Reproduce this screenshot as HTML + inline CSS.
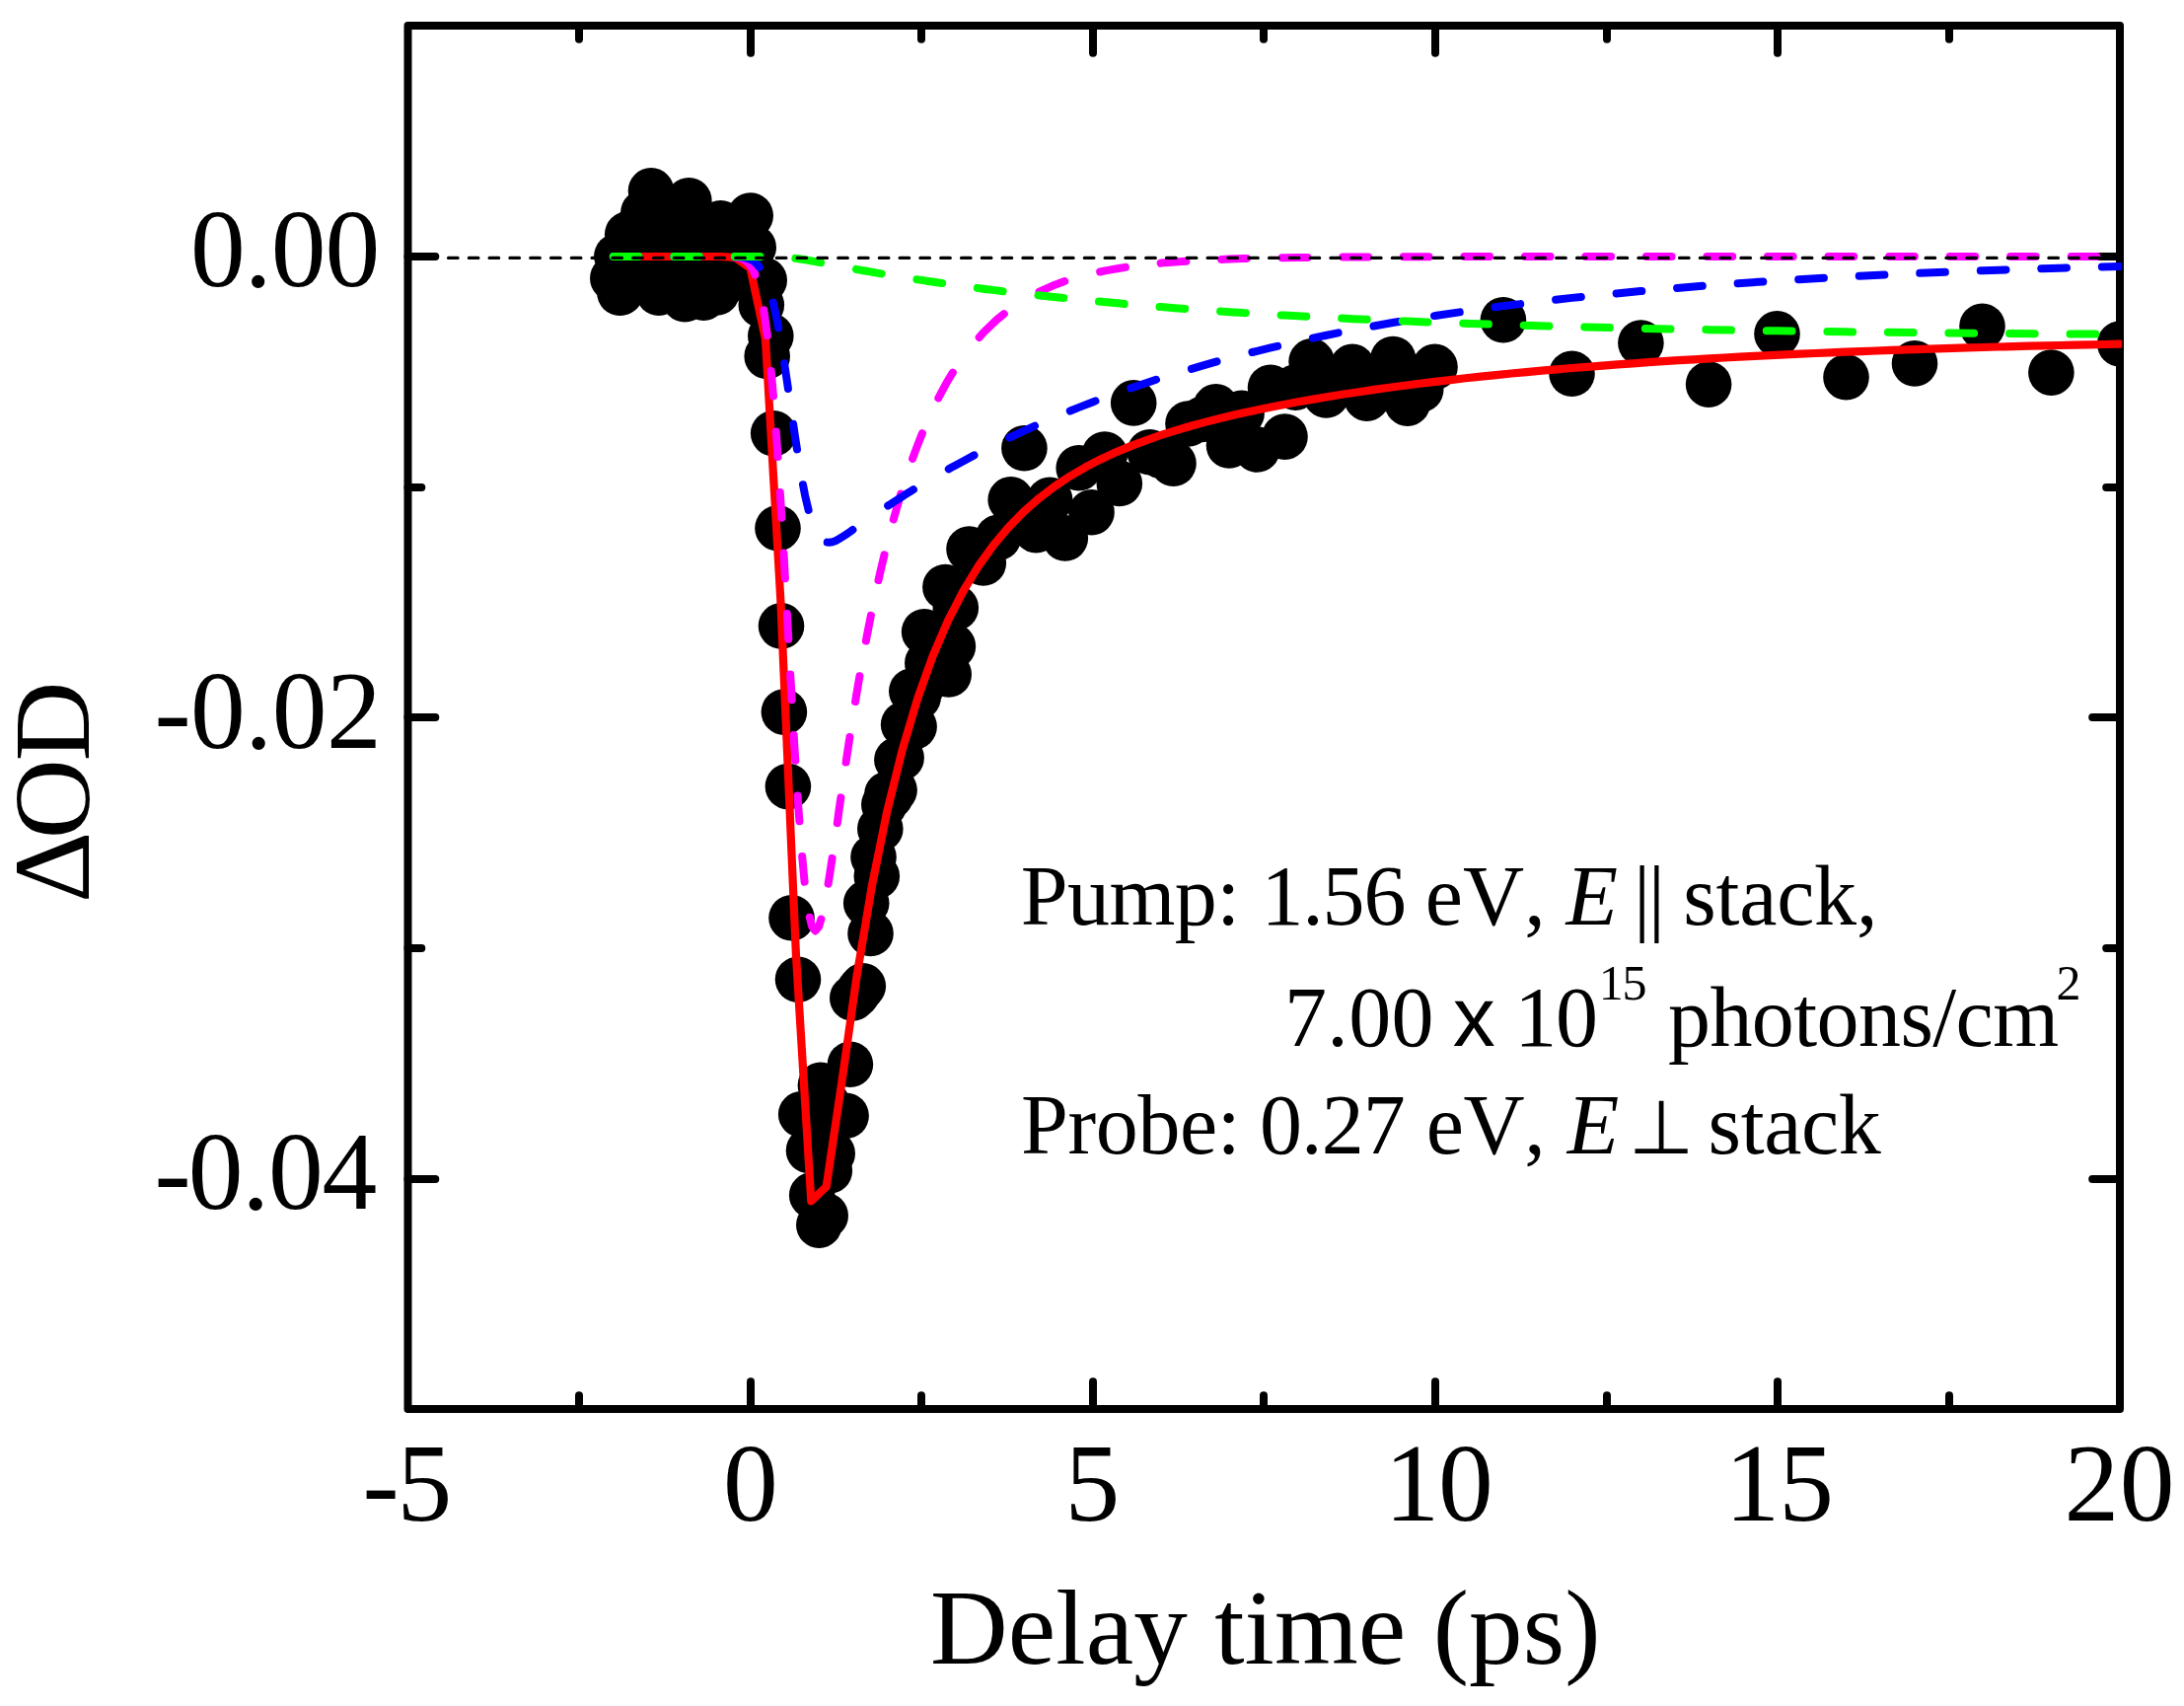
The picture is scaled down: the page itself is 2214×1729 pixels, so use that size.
<!DOCTYPE html><html><head><meta charset="utf-8"><title>Delay time plot</title><style>html,body{margin:0;padding:0;background:#fff}svg{display:block}text{font-family:"Liberation Serif",serif;fill:#000;font-kerning:none;font-variant-ligatures:none}</style></head><body>
<svg width="2214" height="1729" viewBox="0 0 2214 1729">
<rect width="2214" height="1729" fill="#fff"/>
<g stroke="#000" stroke-width="8" stroke-linecap="round" stroke-linejoin="round" fill="none">
<rect x="413.5" y="26.0" width="1735.5" height="1402.0"/>
<line x1="587.0" y1="26.0" x2="587.0" y2="39.8"/>
<line x1="587.0" y1="1428.0" x2="587.0" y2="1414.2"/>
<line x1="761.0" y1="26.0" x2="761.0" y2="53.8"/>
<line x1="761.0" y1="1428.0" x2="761.0" y2="1400.2"/>
<line x1="934.0" y1="26.0" x2="934.0" y2="39.8"/>
<line x1="934.0" y1="1428.0" x2="934.0" y2="1414.2"/>
<line x1="1108.0" y1="26.0" x2="1108.0" y2="53.8"/>
<line x1="1108.0" y1="1428.0" x2="1108.0" y2="1400.2"/>
<line x1="1281.0" y1="26.0" x2="1281.0" y2="39.8"/>
<line x1="1281.0" y1="1428.0" x2="1281.0" y2="1414.2"/>
<line x1="1455.0" y1="26.0" x2="1455.0" y2="53.8"/>
<line x1="1455.0" y1="1428.0" x2="1455.0" y2="1400.2"/>
<line x1="1629.0" y1="26.0" x2="1629.0" y2="39.8"/>
<line x1="1629.0" y1="1428.0" x2="1629.0" y2="1414.2"/>
<line x1="1802.0" y1="26.0" x2="1802.0" y2="53.8"/>
<line x1="1802.0" y1="1428.0" x2="1802.0" y2="1400.2"/>
<line x1="1976.0" y1="26.0" x2="1976.0" y2="39.8"/>
<line x1="1976.0" y1="1428.0" x2="1976.0" y2="1414.2"/>
<line x1="413.5" y1="260.0" x2="441.3" y2="260.0"/>
<line x1="2149.0" y1="260.0" x2="2121.2" y2="260.0"/>
<line x1="413.5" y1="494.0" x2="427.3" y2="494.0"/>
<line x1="2149.0" y1="494.0" x2="2135.2" y2="494.0"/>
<line x1="413.5" y1="727.0" x2="441.3" y2="727.0"/>
<line x1="2149.0" y1="727.0" x2="2121.2" y2="727.0"/>
<line x1="413.5" y1="961.0" x2="427.3" y2="961.0"/>
<line x1="2149.0" y1="961.0" x2="2135.2" y2="961.0"/>
<line x1="413.5" y1="1195.0" x2="441.3" y2="1195.0"/>
<line x1="2149.0" y1="1195.0" x2="2121.2" y2="1195.0"/>
</g>
<defs><clipPath id="plotclip"><rect x="0" y="0" width="2151.2" height="1729"/></clipPath></defs>
<g clip-path="url(#plotclip)">
<g fill="#000">
<circle cx="660.0" cy="193.4" r="23.3"/>
<circle cx="698.3" cy="203.2" r="23.3"/>
<circle cx="760.7" cy="218.6" r="23.3"/>
<circle cx="730.5" cy="226.4" r="23.3"/>
<circle cx="652.4" cy="215.5" r="23.3"/>
<circle cx="636.2" cy="237.6" r="23.3"/>
<circle cx="625.4" cy="259.8" r="23.3"/>
<circle cx="621.3" cy="282.0" r="23.3"/>
<circle cx="629.4" cy="296.1" r="23.3"/>
<circle cx="763.7" cy="250.7" r="23.3"/>
<circle cx="774.7" cy="284.0" r="23.3"/>
<circle cx="628.4" cy="296.7" r="23.3"/>
<circle cx="667.9" cy="296.7" r="23.3"/>
<circle cx="694.3" cy="303.3" r="23.3"/>
<circle cx="713.3" cy="301.6" r="23.3"/>
<circle cx="726.5" cy="296.5" r="23.3"/>
<circle cx="771.8" cy="309.1" r="23.3"/>
<circle cx="645.0" cy="232.0" r="23.3"/>
<circle cx="645.0" cy="262.0" r="23.3"/>
<circle cx="645.0" cy="282.0" r="23.3"/>
<circle cx="654.0" cy="232.0" r="23.3"/>
<circle cx="654.0" cy="262.0" r="23.3"/>
<circle cx="654.0" cy="282.0" r="23.3"/>
<circle cx="663.0" cy="232.0" r="23.3"/>
<circle cx="663.0" cy="262.0" r="23.3"/>
<circle cx="663.0" cy="282.0" r="23.3"/>
<circle cx="672.0" cy="232.0" r="23.3"/>
<circle cx="672.0" cy="262.0" r="23.3"/>
<circle cx="672.0" cy="282.0" r="23.3"/>
<circle cx="681.0" cy="232.0" r="23.3"/>
<circle cx="681.0" cy="262.0" r="23.3"/>
<circle cx="681.0" cy="282.0" r="23.3"/>
<circle cx="690.0" cy="232.0" r="23.3"/>
<circle cx="690.0" cy="262.0" r="23.3"/>
<circle cx="690.0" cy="282.0" r="23.3"/>
<circle cx="699.0" cy="232.0" r="23.3"/>
<circle cx="699.0" cy="262.0" r="23.3"/>
<circle cx="699.0" cy="282.0" r="23.3"/>
<circle cx="708.0" cy="232.0" r="23.3"/>
<circle cx="708.0" cy="262.0" r="23.3"/>
<circle cx="708.0" cy="282.0" r="23.3"/>
<circle cx="717.0" cy="232.0" r="23.3"/>
<circle cx="717.0" cy="262.0" r="23.3"/>
<circle cx="717.0" cy="282.0" r="23.3"/>
<circle cx="726.0" cy="232.0" r="23.3"/>
<circle cx="726.0" cy="262.0" r="23.3"/>
<circle cx="726.0" cy="282.0" r="23.3"/>
<circle cx="735.0" cy="232.0" r="23.3"/>
<circle cx="735.0" cy="262.0" r="23.3"/>
<circle cx="735.0" cy="282.0" r="23.3"/>
<circle cx="744.0" cy="232.0" r="23.3"/>
<circle cx="744.0" cy="262.0" r="23.3"/>
<circle cx="744.0" cy="282.0" r="23.3"/>
<circle cx="753.0" cy="232.0" r="23.3"/>
<circle cx="753.0" cy="262.0" r="23.3"/>
<circle cx="753.0" cy="282.0" r="23.3"/>
<circle cx="777.7" cy="361.0" r="23.3"/>
<circle cx="781.3" cy="340.5" r="23.3"/>
<circle cx="784.2" cy="439.2" r="23.3"/>
<circle cx="788.5" cy="535.3" r="23.3"/>
<circle cx="792.0" cy="634.4" r="23.3"/>
<circle cx="794.9" cy="721.6" r="23.3"/>
<circle cx="798.9" cy="797.1" r="23.3"/>
<circle cx="802.5" cy="930.3" r="23.3"/>
<circle cx="809.0" cy="992.7" r="23.3"/>
<circle cx="812.2" cy="1129.4" r="23.3"/>
<circle cx="820.0" cy="1166.0" r="23.3"/>
<circle cx="823.2" cy="1211.4" r="23.3"/>
<circle cx="830.3" cy="1241.6" r="23.3"/>
<circle cx="836.7" cy="1232.0" r="23.3"/>
<circle cx="840.8" cy="1186.5" r="23.3"/>
<circle cx="843.7" cy="1169.0" r="23.3"/>
<circle cx="857.6" cy="1130.8" r="23.3"/>
<circle cx="861.9" cy="1078.8" r="23.3"/>
<circle cx="831.9" cy="1099.9" r="23.3"/>
<circle cx="835.0" cy="1140.0" r="23.3"/>
<circle cx="838.0" cy="1118.0" r="23.3"/>
<circle cx="864.3" cy="1011.5" r="23.3"/>
<circle cx="868.2" cy="1008.0" r="23.3"/>
<circle cx="871.7" cy="1003.0" r="23.3"/>
<circle cx="874.8" cy="999.4" r="23.3"/>
<circle cx="878.2" cy="915.4" r="23.3"/>
<circle cx="882.5" cy="946.0" r="23.3"/>
<circle cx="885.5" cy="868.7" r="23.3"/>
<circle cx="888.8" cy="888.0" r="23.3"/>
<circle cx="892.3" cy="840.0" r="23.3"/>
<circle cx="896.3" cy="815.6" r="23.3"/>
<circle cx="899.4" cy="805.0" r="23.3"/>
<circle cx="902.9" cy="806.7" r="23.3"/>
<circle cx="906.6" cy="800.8" r="23.3"/>
<circle cx="909.4" cy="770.2" r="23.3"/>
<circle cx="913.6" cy="768.1" r="23.3"/>
<circle cx="916.1" cy="734.3" r="23.3"/>
<circle cx="920.3" cy="740.2" r="23.3"/>
<circle cx="924.3" cy="700.6" r="23.3"/>
<circle cx="926.6" cy="736.4" r="23.3"/>
<circle cx="930.7" cy="706.5" r="23.3"/>
<circle cx="934.2" cy="696.2" r="23.3"/>
<circle cx="937.1" cy="640.3" r="23.3"/>
<circle cx="940.3" cy="671.9" r="23.3"/>
<circle cx="944.6" cy="667.7" r="23.3"/>
<circle cx="948.0" cy="658.9" r="23.3"/>
<circle cx="951.5" cy="650.5" r="23.3"/>
<circle cx="955.0" cy="642.5" r="23.3"/>
<circle cx="958.4" cy="595.0" r="23.3"/>
<circle cx="961.7" cy="683.5" r="23.3"/>
<circle cx="965.9" cy="655.0" r="23.3"/>
<circle cx="968.8" cy="616.0" r="23.3"/>
<circle cx="982.5" cy="556.5" r="23.3"/>
<circle cx="996.8" cy="570.5" r="23.3"/>
<circle cx="1011.9" cy="544.8" r="23.3"/>
<circle cx="1024.7" cy="506.4" r="23.3"/>
<circle cx="1038.4" cy="454.2" r="23.3"/>
<circle cx="1050.3" cy="537.1" r="23.3"/>
<circle cx="1064.2" cy="506.7" r="23.3"/>
<circle cx="1079.8" cy="545.4" r="23.3"/>
<circle cx="1093.7" cy="474.3" r="23.3"/>
<circle cx="1106.5" cy="519.2" r="23.3"/>
<circle cx="1119.9" cy="460.6" r="23.3"/>
<circle cx="1134.8" cy="489.9" r="23.3"/>
<circle cx="1149.2" cy="408.4" r="23.3"/>
<circle cx="1165.7" cy="458.2" r="23.3"/>
<circle cx="1177.1" cy="462.0" r="23.3"/>
<circle cx="1189.5" cy="469.7" r="23.3"/>
<circle cx="1204.5" cy="429.5" r="23.3"/>
<circle cx="1218.8" cy="425.0" r="23.3"/>
<circle cx="1232.6" cy="412.4" r="23.3"/>
<circle cx="1246.0" cy="451.5" r="23.3"/>
<circle cx="1258.6" cy="418.9" r="23.3"/>
<circle cx="1274.3" cy="455.5" r="23.3"/>
<circle cx="1288.0" cy="392.8" r="23.3"/>
<circle cx="1302.5" cy="442.6" r="23.3"/>
<circle cx="1313.3" cy="392.6" r="23.3"/>
<circle cx="1329.6" cy="366.4" r="23.3"/>
<circle cx="1344.4" cy="400.5" r="23.3"/>
<circle cx="1357.6" cy="386.0" r="23.3"/>
<circle cx="1371.0" cy="371.9" r="23.3"/>
<circle cx="1385.6" cy="403.6" r="23.3"/>
<circle cx="1399.3" cy="386.0" r="23.3"/>
<circle cx="1412.2" cy="364.1" r="23.3"/>
<circle cx="1426.8" cy="408.6" r="23.3"/>
<circle cx="1440.2" cy="394.8" r="23.3"/>
<circle cx="1454.5" cy="371.9" r="23.3"/>
<circle cx="1523.9" cy="324.3" r="23.3"/>
<circle cx="1593.5" cy="378.7" r="23.3"/>
<circle cx="1663.4" cy="347.6" r="23.3"/>
<circle cx="1732.1" cy="389.6" r="23.3"/>
<circle cx="1801.5" cy="338.4" r="23.3"/>
<circle cx="1871.5" cy="382.3" r="23.3"/>
<circle cx="1941.0" cy="368.4" r="23.3"/>
<circle cx="2009.5" cy="330.7" r="23.3"/>
<circle cx="2079.4" cy="377.6" r="23.3"/>
<circle cx="2149.3" cy="348.5" r="23.3"/>
</g>
<polyline points="621.8,260.0 637.2,260.0 652.6,260.0 668.0,260.0 683.5,260.0 698.9,260.0 714.3,260.0 729.7,260.0 745.2,260.8 760.6,271.8 776.0,344.0 791.5,611.0 806.9,967.0 822.3,1217.3 837.7,1202.6 853.2,1097.8 868.6,988.9 884.0,897.4 899.4,821.8 914.9,759.4 930.3,707.7 945.7,664.7 961.1,628.9 976.6,598.8 992.0,573.5 1007.4,552.1 1022.9,533.8 1038.3,518.2 1053.7,504.7 1069.1,493.0 1084.6,482.7 1100.0,473.7 1115.4,465.7 1130.8,458.5 1146.3,452.1 1161.7,446.3 1177.1,440.9 1192.5,436.1 1208.0,431.5 1223.4,427.4 1238.8,423.5 1254.3,419.8 1269.7,416.4 1285.1,413.2 1300.5,410.2 1316.0,407.3 1331.4,404.6 1346.8,402.0 1362.2,399.5 1377.7,397.2 1393.1,394.9 1408.5,392.8 1423.9,390.7 1439.4,388.7 1454.8,386.9 1470.2,385.1 1485.7,383.3 1501.1,381.7 1516.5,380.1 1531.9,378.5 1547.4,377.1 1562.8,375.7 1578.2,374.3 1593.6,373.0 1609.1,371.8 1624.5,370.6 1639.9,369.4 1655.3,368.3 1670.8,367.2 1686.2,366.2 1701.6,365.2 1717.1,364.3 1732.5,363.4 1747.9,362.5 1763.3,361.7 1778.8,360.9 1794.2,360.1 1809.6,359.4 1825.0,358.7 1840.5,358.0 1855.9,357.3 1871.3,356.7 1886.7,356.1 1902.2,355.5 1917.6,354.9 1933.0,354.4 1948.5,353.9 1963.9,353.4 1979.3,352.9 1994.7,352.4 2010.2,352.0 2025.6,351.5 2041.0,351.1 2056.4,350.7 2071.9,350.4 2087.3,350.0 2102.7,349.6 2118.1,349.3 2133.6,349.0 2149.0,348.7" stroke="#ff0000" stroke-width="8.2" fill="none" stroke-linecap="round" stroke-linejoin="round"/>
<path d="M621.8 260.0 L625.2 260.0 L628.7 260.0 L632.2 260.0 L635.6 260.0 L639.1 260.0 L642.6 260.0 L646.1 260.0 L647.5 260.0 M683.3 260.0 L684.2 260.0 L687.7 260.0 L691.2 260.0 L694.7 260.0 L698.1 260.0 L701.6 260.0 L705.1 260.0 L708.5 260.0 L709.0 260.0 M744.8 260.6 L746.7 260.8 L750.2 261.6 L753.7 262.9 L757.1 265.2 L760.6 268.9 L764.1 274.8 L765.5 278.5 M774.3 314.4 L774.5 315.3 L777.9 340.1 M781.7 375.9 L784.0 401.6 M786.7 437.4 L788.4 460.4 L788.5 463.1 M790.8 499.0 L791.8 515.2 L792.4 524.7 M794.5 560.5 L795.3 575.4 L795.9 586.2 M797.9 622.0 L798.8 638.6 L799.3 647.7 M801.2 683.6 L802.3 701.9 L802.7 709.3 M804.7 745.1 L805.7 762.2 L806.3 770.8 M808.6 806.6 L809.2 816.7 L810.4 832.3 M813.2 868.1 L815.6 893.8 M820.9 929.7 L823.1 938.9 L826.5 943.4 L830.0 939.2 L832.4 931.5 M839.6 895.6 L840.4 890.8 L843.6 869.9 M848.8 834.1 L850.8 819.3 L852.4 808.4 M857.6 772.6 L857.8 771.0 L861.3 747.8 L861.4 746.9 M867.1 711.0 L868.2 704.2 L871.4 685.3 M877.9 649.5 L878.6 645.5 L882.1 627.8 L882.9 623.8 M890.5 588.0 L892.5 579.2 L896.0 564.4 L896.5 562.3 M905.8 526.4 L906.4 524.2 L909.9 512.0 L913.2 500.7 M925.1 464.9 L927.2 459.0 L930.7 449.8 L934.2 441.0 L934.9 439.2 M951.3 403.4 L951.5 403.0 L955.0 396.4 L958.4 390.1 L961.9 384.1 L965.4 378.3 L965.8 377.7 M992.7 341.9 L996.6 337.3 L1010.5 324.0 L1017.8 318.2 M1053.6 295.7 L1066.0 290.1 L1079.3 285.1 M1115.2 275.5 L1121.6 274.1 L1135.5 271.7 L1140.9 270.9 M1176.7 266.7 L1177.1 266.6 L1191.0 265.5 L1202.4 264.7 M1238.2 262.9 L1246.5 262.6 L1260.4 262.1 L1263.9 262.0 M1299.8 261.3 L1302.1 261.2 L1316.0 261.0 L1325.5 260.9 M1361.3 260.5 L1371.5 260.5 L1385.4 260.4 L1387.0 260.4 M1422.8 260.2 L1427.0 260.2 L1440.9 260.2 L1448.5 260.2 M1484.4 260.1 L1510.1 260.1 M1545.9 260.0 L1571.6 260.0 M1607.4 260.0 L1633.1 260.0 M1668.9 260.0 L1694.6 260.0 M1730.5 260.0 L1732.5 260.0 L1756.2 260.0 M1792.0 260.0 L1801.9 260.0 L1817.7 260.0 M1853.5 260.0 L1871.3 260.0 L1879.2 260.0 M1915.1 260.0 L1940.7 260.0 L1940.8 260.0 M1976.6 260.0 L2002.3 260.0 M2038.1 260.0 L2063.8 260.0 M2099.7 260.0 L2125.4 260.0" stroke="#ff00ff" stroke-width="8" fill="none" stroke-linecap="round" stroke-linejoin="round"/>
<path d="M621.8 260.0 L625.2 260.0 L628.7 260.0 L632.2 260.0 L635.6 260.0 L639.1 260.0 L642.6 260.0 L646.1 260.0 L647.5 260.0 M683.3 260.0 L684.2 260.0 L687.7 260.0 L691.2 260.0 L694.7 260.0 L698.1 260.0 L701.6 260.0 L705.1 260.0 L708.5 260.0 L709.0 260.0 M744.8 260.2 L746.7 260.3 L750.2 260.5 L753.7 260.9 L757.1 261.7 L760.6 262.9 L764.1 264.9 L767.5 267.8 L769.9 270.8 M783.7 306.6 L784.9 311.6 L788.4 328.3 L789.1 332.3 M795.1 368.2 L795.3 369.5 L798.8 392.8 L798.9 393.9 M804.1 429.7 L805.7 440.7 L808.0 455.4 M814.0 491.2 L816.1 502.1 L819.6 516.9 M838.7 549.6 L840.4 549.8 L843.9 549.2 L847.4 547.9 L850.8 546.0 L854.3 543.9 L857.8 541.6 L861.3 539.2 L864.4 537.0 M900.2 512.5 L902.9 510.8 L906.4 508.5 L909.9 506.3 L913.3 504.1 L916.8 501.9 L920.3 499.7 L923.7 497.6 L925.9 496.2 M961.8 475.3 L961.9 475.2 L965.4 473.3 L968.9 471.4 L982.7 463.9 L987.5 461.4 M1023.3 443.6 L1024.4 443.0 L1038.3 436.6 L1049.0 431.7 M1084.8 416.5 L1093.8 412.9 L1107.7 407.5 L1110.5 406.4 M1146.3 393.4 L1149.4 392.4 L1163.2 387.7 L1172.0 384.8 M1207.9 373.8 L1218.8 370.6 L1232.7 366.7 L1233.6 366.4 M1269.4 357.0 L1274.3 355.8 L1288.2 352.4 L1295.1 350.8 M1330.9 342.7 L1343.7 340.0 L1356.6 337.4 M1392.5 330.5 L1399.3 329.3 L1413.1 326.8 L1418.2 326.0 M1454.0 320.1 L1454.8 320.0 L1479.7 316.4 M1515.5 311.3 L1524.2 310.1 L1541.2 308.1 M1577.1 303.8 L1593.6 301.9 L1602.8 301.0 M1638.6 297.4 L1663.1 295.0 L1664.3 294.9 M1700.1 291.9 L1725.8 289.8 M1761.6 287.2 L1787.3 285.4 M1823.2 283.2 L1848.9 281.7 M1884.7 279.7 L1910.4 278.5 M1946.2 276.8 L1971.9 275.8 M2007.8 274.3 L2010.2 274.2 L2033.5 273.4 M2069.3 272.2 L2079.6 271.9 L2095.0 271.4 M2130.8 270.4 L2149.0 269.9" stroke="#0000ff" stroke-width="8" fill="none" stroke-linecap="round" stroke-linejoin="round"/>
<path d="M621.8 260.0 L625.2 260.0 L628.7 260.0 L632.2 260.0 L635.6 260.0 L639.1 260.0 L642.6 260.0 L646.1 260.0 L647.5 260.0 M683.3 260.0 L684.2 260.0 L687.7 260.0 L691.2 260.0 L694.7 260.0 L698.1 260.0 L701.6 260.0 L705.1 260.0 L708.5 260.0 L709.0 260.0 M744.8 260.0 L746.7 260.0 L750.2 260.0 L753.7 260.0 L757.1 260.0 L760.6 260.0 L764.1 260.0 L767.5 260.0 L770.5 260.1 M806.4 261.9 L809.2 262.3 L812.7 262.8 L816.1 263.3 L819.6 263.9 L823.1 264.5 L826.5 265.1 L830.0 265.8 L832.0 266.2 M867.9 272.9 L868.2 273.0 L871.7 273.6 L875.1 274.2 L878.6 274.8 L882.1 275.4 L885.6 276.0 L889.0 276.6 L892.5 277.2 L893.6 277.4 M929.4 283.2 L930.7 283.4 L934.2 283.9 L937.6 284.4 L941.1 285.0 L944.6 285.5 L948.0 286.0 L951.5 286.5 L955.0 287.0 L955.1 287.0 M990.9 291.9 L996.6 292.7 L1010.5 294.4 L1016.6 295.2 M1052.5 299.3 L1066.0 300.8 L1078.2 302.1 M1114.0 305.6 L1121.6 306.3 L1135.5 307.6 L1139.7 308.0 M1175.5 311.0 L1177.1 311.1 L1191.0 312.2 L1201.2 313.0 M1237.1 315.5 L1246.5 316.2 L1260.4 317.1 L1262.8 317.2 M1298.6 319.4 L1302.1 319.6 L1316.0 320.3 L1324.3 320.8 M1360.1 322.6 L1371.5 323.2 L1385.4 323.8 L1385.8 323.8 M1421.7 325.4 L1427.0 325.6 L1440.9 326.2 L1447.3 326.4 M1483.2 327.7 L1508.9 328.6 M1544.7 329.7 L1570.4 330.5 M1606.2 331.4 L1631.9 332.1 M1667.8 332.9 L1693.5 333.4 M1729.3 334.1 L1732.5 334.2 L1755.0 334.6 M1790.8 335.2 L1801.9 335.3 L1816.5 335.5 M1852.4 336.0 L1871.3 336.3 L1878.1 336.4 M1913.9 336.8 L1939.6 337.1 M1975.4 337.4 L2001.1 337.7 M2037.0 338.0 L2062.7 338.2 M2098.5 338.4 L2124.2 338.6" stroke="#00ff00" stroke-width="8" fill="none" stroke-linecap="round" stroke-linejoin="round"/>
<line x1="454.5" y1="261.4" x2="2145" y2="261.4" stroke="#000" stroke-width="3.2" stroke-dasharray="9.6 11.2" stroke-linecap="round"/>
</g>
<text x="193.0" y="290.2" font-size="111.5" letter-spacing="-1.0">0.00</text>
<text x="156.4 193.0" y="757.5" font-size="111.5" letter-spacing="-0.5">-0.02</text>
<text x="156.4 190.7" y="1224.8" font-size="111.5" letter-spacing="-1.2">-0.04</text>
<text x="367.4 402.5" y="1541" font-size="111.5">-5</text>
<text x="733.0" y="1541" font-size="111.5">0</text>
<text x="1079.5" y="1541" font-size="111.5">5</text>
<text x="1403.4" y="1541" font-size="111.5" letter-spacing="-1.2">10</text>
<text x="1748.6" y="1541" font-size="111.5" letter-spacing="-1.2">15</text>
<text x="2092.4" y="1541" font-size="111.5" letter-spacing="0.6">20</text>
<text x="943.0" y="1686" font-size="109" letter-spacing="0.11">Delay time (ps)</text>
<text transform="translate(89.5,916) rotate(-90) scale(1.03,1)" font-size="109" x="1.0 63.9 140.4">ΔOD</text>
<text x="1034.8" y="937" font-size="86" letter-spacing="-0.55">Pump:</text>
<text x="1278.5" y="937" font-size="86" letter-spacing="-1.2">1.56</text>
<text x="1444.7" y="937" font-size="86" letter-spacing="0.1">eV,</text>
<text x="1587.5" y="937" font-size="86" font-style="italic">E</text>
<text x="1655.9" y="937" font-size="86">|</text>
<text x="1670.8" y="937" font-size="86">|</text>
<text x="1706.3" y="937" font-size="86" letter-spacing="-0.22">stack,</text>
<text x="1302" y="1060" font-size="86" letter-spacing="0.33">7.00</text>
<text x="1472.7" y="1060" font-size="86" style="font-family:'Liberation Sans',sans-serif">x</text>
<text x="1535.2" y="1060" font-size="86" letter-spacing="-1.2">10</text>
<text x="1620.8" y="1013.2" font-size="50" letter-spacing="-1.2">15</text>
<text x="1691" y="1060" font-size="86" letter-spacing="-0.58">photons/cm</text>
<text x="2084.4" y="1013.2" font-size="50">2</text>
<text x="1035.1" y="1169" font-size="86" letter-spacing="-0.38">Probe:</text>
<text x="1277" y="1169" font-size="86" letter-spacing="-0.93">0.27</text>
<text x="1445.8" y="1169" font-size="86" letter-spacing="-0.45">eV,</text>
<text x="1588.7" y="1169" font-size="86" font-style="italic">E</text>
<text x="1650.5" y="1169" font-size="76" style="font-family:'DejaVu Sans',sans-serif;font-weight:200">⊥</text>
<text x="1731.6" y="1169" font-size="86" letter-spacing="-0.4">stack</text>
</svg></body></html>
